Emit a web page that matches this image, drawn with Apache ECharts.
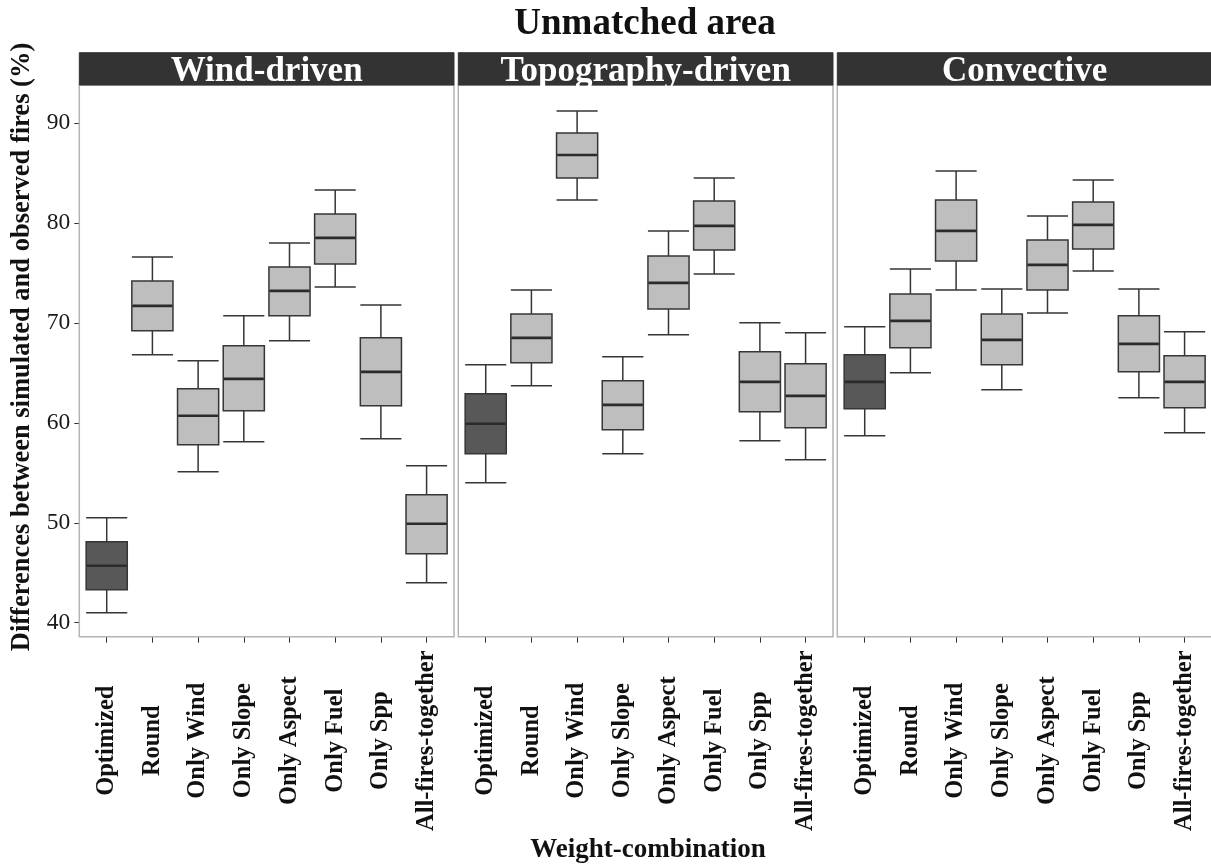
<!DOCTYPE html>
<html>
<head>
<meta charset="utf-8">
<script src="https://cdn.jsdelivr.net/npm/echarts@6/dist/echarts.min.js"></script>
<style>
html,body{margin:0;padding:0;background:#fff;}
#chart{width:1211px;height:867px;}
</style>
</head>
<body>
<div id="chart"></div>
<script>
// ---- data ----
const categories = ['Optimized','Round','Only Wind','Only Slope','Only Aspect','Only Fuel','Only Spp','All-fires-together'];
const panelNames = ['Wind-driven','Topography-driven','Convective'];
// each row: [lower whisker, Q1, median, Q3, upper whisker]
const windDriven = [
  [41.0,43.3,45.7,48.1,50.5],[66.8,69.2,71.7,74.2,76.6],[55.1,57.8,60.7,63.4,66.2],[58.1,61.2,64.4,67.7,70.7],
  [68.2,70.7,73.2,75.6,78.0],[73.6,75.9,78.5,80.9,83.3],[58.4,61.7,65.1,68.5,71.8],[44.0,46.9,49.9,52.8,55.7]
];
const topographyDriven = [
  [54.0,56.9,59.9,62.9,65.8],[63.7,66.0,68.5,70.9,73.3],[82.3,84.5,86.8,89.0,91.2],[56.9,59.3,61.8,64.2,66.6],
  [68.8,71.4,74.0,76.7,79.2],[74.9,77.3,79.7,82.2,84.5],[58.2,61.1,64.1,67.1,70.0],[56.3,59.5,62.7,65.9,69.0]
];
const convective = [
  [58.7,61.4,64.1,66.8,69.6],[65.0,67.5,70.2,72.9,75.4],[73.3,76.2,79.2,82.3,85.2],[63.3,65.8,68.3,70.9,73.4],
  [71.0,73.3,75.8,78.3,80.7],[75.2,77.4,79.8,82.1,84.3],[62.5,65.1,67.9,70.7,73.4],[59.0,61.5,64.1,66.7,69.1]
];
const yTicks = [40,50,60,70,80,90];
const yMin = 38.6, yMax = 93.8;

// ---- layout / style ----
const FONT = 'Liberation Serif';
const panelLeft = [79.3, 458.3, 837.3];
const panelW = 374.7;
const panelTop = 85, panelH = 551.7;
const stripTop = 52.7, stripH = panelTop - stripTop;
const band = panelW / 8.2;
const boxW = band * 0.9;
const darkFill = '#585858', lightFill = '#bebebe', lineCol = '#363636';

const panelData = [windDriven, topographyDriven, convective];

const grids = [], xAxes = [], yAxes = [], series = [], graphics = [];
panelData.forEach((rows, p) => {
  const gl = panelLeft[p] + band * 0.1;
  grids.push({left: gl, top: panelTop, width: band * 8, height: panelH, containLabel: false});
  xAxes.push({
    type: 'category', gridIndex: p, data: categories, boundaryGap: true,
    axisLine: {show: false},
    axisTick: {show: true, alignWithLabel: true, length: 6, lineStyle: {color: '#333', width: 1}},
    axisLabel: {rotate: 90, interval: 0, margin: 104, align: 'center', verticalAlign: 'middle',
                fontFamily: FONT, fontWeight: 'bold', fontSize: 24.5, color: '#111'},
    splitLine: {show: false}
  });
  yAxes.push({
    type: 'value', gridIndex: p, min: yMin, max: yMax,
    offset: band * 0.1,
    axisLine: {show: false},
    axisTick: {show: p === 0, length: 5, customValues: yTicks, lineStyle: {color: '#333', width: 1}},
    axisLabel: {show: p === 0, customValues: yTicks, margin: 9, fontFamily: FONT, fontSize: 23.5, color: '#1a1a1a'},
    splitLine: {show: false}
  });
  series.push({
    type: 'boxplot', xAxisIndex: p, yAxisIndex: p,
    boxWidth: [boxW, boxW],
    itemStyle: {borderColor: lineCol, borderWidth: 1.5},
    emphasis: {disabled: true},
    data: rows.map((r, i) => ({value: r, itemStyle: {color: i === 0 ? darkFill : lightFill}}))
  });
  series.push({
    type: 'custom', xAxisIndex: p, yAxisIndex: p, z: 5,
    data: rows.map((r, i) => [i, r[2]]),
    renderItem: function (params, api) {
      const pt = api.coord([api.value(0), api.value(1)]);
      return {type: 'line', shape: {x1: pt[0] - boxW / 2 + 0.8, y1: pt[1], x2: pt[0] + boxW / 2 - 0.8, y2: pt[1]},
              style: {stroke: '#2b2b2b', lineWidth: 2.6}};
    }
  });
  // panel border
  graphics.push({type: 'rect', shape: {x: panelLeft[p], y: panelTop, width: panelW, height: panelH},
                 style: {fill: 'none', stroke: '#b4b4b4', lineWidth: 1.5}, z: 1});
  // strip
  graphics.push({type: 'rect', shape: {x: panelLeft[p], y: stripTop, width: panelW, height: stripH},
                 style: {fill: '#333333', stroke: '#333333', lineWidth: 1}, z: 1});
  graphics.push({type: 'text', x: panelLeft[p] + panelW / 2, y: stripTop + stripH / 2 + 3,
                 style: {text: panelNames[p], fill: '#ffffff', font: 'bold 35px "' + FONT + '"', textAlign: 'center', textVerticalAlign: 'middle'}, z: 2});
});

// axis titles
graphics.push({type: 'text', x: 22, y: 347, rotation: Math.PI / 2,
  style: {text: 'Differences between simulated and observed fires (%)', fill: '#111', font: 'bold 26.5px "' + FONT + '"', textAlign: 'center', textVerticalAlign: 'middle'}});
graphics.push({type: 'text', x: 648, y: 850,
  style: {text: 'Weight-combination', fill: '#111', font: 'bold 27px "' + FONT + '"', textAlign: 'center', textVerticalAlign: 'middle'}});
graphics.push({type: 'text', x: 645, y: 24,
  style: {text: 'Unmatched area', fill: '#111', font: 'bold 37px "' + FONT + '"', textAlign: 'center', textVerticalAlign: 'middle'}});

const chart = echarts.init(document.getElementById('chart'), null, {renderer: 'canvas'});
chart.setOption({
  animation: false,
  backgroundColor: '#ffffff',
  grid: grids, xAxis: xAxes, yAxis: yAxes, series: series, graphic: graphics
});
</script>
</body>
</html>
